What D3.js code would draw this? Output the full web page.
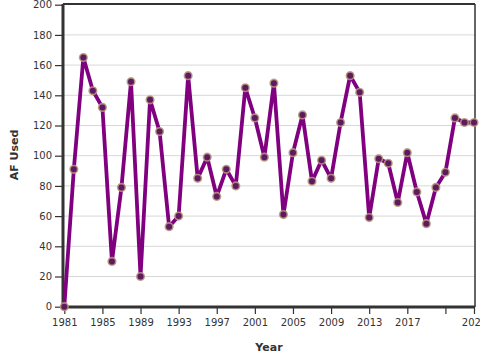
<!DOCTYPE html>
<html><head><meta charset="utf-8">
<script src="https://cdn.jsdelivr.net/npm/d3@7"></script>
<style>
body{margin:0;background:#fff;}
svg{display:block;font-family:"DejaVu Sans",sans-serif;}
</style></head>
<body><svg id="c" width="480" height="360"></svg>
<script>
const years = [1981,1982,1983,1984,1985,1986,1987,1988,1989,1990,1991,1992,1993,1994,1995,1996,1997,1998,1999,2000,2001,2002,2003,2004,2005,2006,2007,2008,2009,2010,2011,2012,2013,2014,2015,2016,2017,2018,2019,2020,2021,2022,2023,2024];
const afUsed = [0,91,165,143,132,30,79,149,20,137,116,53,60,153,85,99,73,91,80,145,125,99,148,61,102,127,83,97,85,122,153,142,59,98,95,69,102,76,55,79,89,125,122,122];
const xTicks = [1981,1985,1989,1993,1997,2001,2005,2009,2013,2017,2021,2024];
const xTickLabels = ["1981","1985","1989","1993","1997","2001","2005","2009","2013","2017","","2024"];
const yTicks = [0,20,40,60,80,100,120,140,160,180,200];

const svg = d3.select("#c");
const m = {left:63, right:475, top:4, bottom:307};
const x = d3.scaleLinear().domain([1981,2024]).range([m.left+1.3, m.right-1]);
const y = d3.scaleLinear().domain([0,200]).range([m.bottom-0.3, m.top+0.7]);

// grid
svg.append("g").selectAll("line").data(yTicks.slice(1,-1)).join("line")
  .attr("x1", m.left).attr("x2", m.right)
  .attr("y1", d=>y(d)).attr("y2", d=>y(d))
  .attr("stroke","#d8d8d8").attr("stroke-width",1);

// frame
svg.append("line").attr("x1",m.left).attr("x2",m.right).attr("y1",m.top).attr("y2",m.top).attr("stroke","#333").attr("stroke-width",2);
svg.append("line").attr("x1",m.right).attr("x2",m.right).attr("y1",m.top).attr("y2",m.bottom).attr("stroke","#333").attr("stroke-width",1.5);

// axes
const yAxis = d3.axisLeft(y).tickValues(yTicks).tickSize(8).tickPadding(3);
const gy = svg.append("g").attr("transform",`translate(${m.left},0)`).call(yAxis);
const xAxis = d3.axisBottom(x).tickValues(xTicks).tickFormat((d,i)=>xTickLabels[i]).tickSize(7).tickPadding(5);
const gx = svg.append("g").attr("transform",`translate(0,${m.bottom})`).call(xAxis);
[gx,gy].forEach(g=>{
  g.select(".domain").attr("stroke","#333").attr("stroke-width",3);
  g.selectAll(".tick line").attr("stroke","#333").attr("stroke-width",1.2);
  g.selectAll("text").attr("fill","#333").attr("font-size","10px").attr("font-family","DejaVu Sans, sans-serif");
});
gy.select(".domain").attr("d",`M0,${m.top}V${m.bottom}`);
gx.select(".domain").attr("d",`M${m.left},0H${m.right}`);

// line
const line = d3.line().x((d,i)=>x(years[i])).y(d=>y(d));
svg.append("path").datum(afUsed).attr("d",line)
  .attr("fill","none").attr("stroke","#800080").attr("stroke-width",3.8).attr("stroke-linejoin","round");

// points
svg.append("g").selectAll("circle").data(afUsed).join("circle")
  .attr("cx",(d,i)=>x(years[i])).attr("cy",d=>y(d)).attr("r",3.8)
  .attr("fill","#5e1a5e").attr("stroke","#b89a80").attr("stroke-width",1.6).attr("stroke-opacity",0.85);

// titles
svg.append("text").attr("x",269).attr("y",351).attr("text-anchor","middle")
  .attr("font-size","11px").attr("font-weight","bold").attr("fill","#333").text("Year");
svg.append("text").attr("transform","translate(18,155) rotate(-90)").attr("text-anchor","middle")
  .attr("font-size","11px").attr("font-weight","bold").attr("fill","#333").text("AF Used");
</script></body></html>
